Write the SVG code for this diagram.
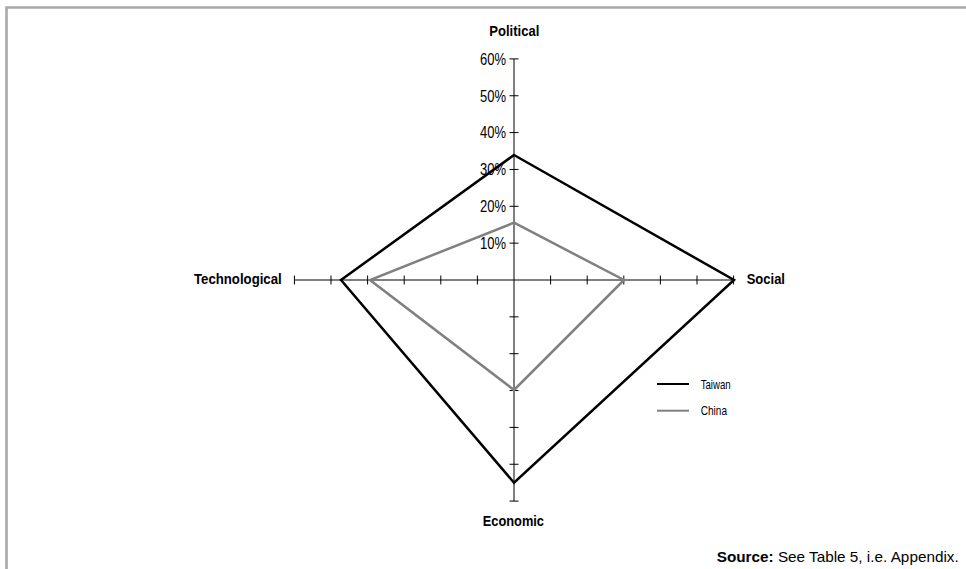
<svg xmlns="http://www.w3.org/2000/svg" width="966" height="569" viewBox="0 0 966 569">
<style>
.ax{stroke:#000;stroke-width:1;fill:none}
.tw{stroke:#000;stroke-width:2.5;fill:none;stroke-linejoin:miter}
.cn{stroke:#808080;stroke-width:2.5;fill:none;stroke-linejoin:miter}
.lbl{font-family:"Liberation Sans",Arial,sans-serif;font-weight:bold;font-size:14px;fill:#000}
.tk{font-family:"Liberation Sans",Arial,sans-serif;font-size:16px;fill:#000;text-anchor:end}
.lg{font-family:"Liberation Sans",Arial,sans-serif;font-size:13.5px;fill:#000}
.src{font-family:"Liberation Sans",Arial,sans-serif;font-size:14.5px;fill:#000}
</style>
<rect width="966" height="569" fill="#fff"/>
<path d="M6.5 569 V7.5 H966" stroke="#a8a8a8" stroke-width="2.6" fill="none"/>
<g id="axes">
<path class="ax" d="M514 58.9 V501.1 M294.4 280 H733.6"/>
<path class="ax" d="M509.5 58.9 h9 M509.5 95.75 h9 M509.5 132.6 h9 M509.5 169.45 h9 M509.5 206.3 h9 M509.5 243.15 h9 M509.5 316.85 h9 M509.5 353.7 h9 M509.5 390.55 h9 M509.5 427.4 h9 M509.5 464.25 h9 M509.5 501.1 h9"/>
<path class="ax" d="M294.4 275.5 v9 M331 275.5 v9 M367.6 275.5 v9 M404.2 275.5 v9 M440.8 275.5 v9 M477.4 275.5 v9 M550.6 275.5 v9 M587.2 275.5 v9 M623.8 275.5 v9 M660.4 275.5 v9 M697 275.5 v9 M733.6 275.5 v9"/>
</g>
<g id="ticklabels">
<text class="tk" x="506" y="64.6" textLength="26" lengthAdjust="spacingAndGlyphs">60%</text>
<text class="tk" x="506" y="101.5" textLength="26" lengthAdjust="spacingAndGlyphs">50%</text>
<text class="tk" x="506" y="138.3" textLength="26" lengthAdjust="spacingAndGlyphs">40%</text>
<text class="tk" x="506" y="175.2" textLength="26" lengthAdjust="spacingAndGlyphs">30%</text>
<text class="tk" x="506" y="212" textLength="26" lengthAdjust="spacingAndGlyphs">20%</text>
<text class="tk" x="506" y="248.9" textLength="26" lengthAdjust="spacingAndGlyphs">10%</text>
</g>
<g id="series">
<polygon id="taiwan" class="tw" points="514,155 734,280 514,482.7 341,280"/>
<polygon id="china" class="cn" points="514,222.7 624,280 514,390 370,280"/>
</g>
<g id="political"><text class="lbl" x="489.3" y="36" textLength="50" lengthAdjust="spacingAndGlyphs">Political</text></g>
<g id="social"><text class="lbl" x="746.7" y="284" textLength="38.3" lengthAdjust="spacingAndGlyphs">Social</text></g>
<g id="economic"><text class="lbl" x="482.7" y="526" textLength="61.3" lengthAdjust="spacingAndGlyphs">Economic</text></g>
<g id="technological"><text class="lbl" x="194" y="284" textLength="87.7" lengthAdjust="spacingAndGlyphs">Technological</text></g>
<g id="legend">
<line x1="657" y1="384" x2="689" y2="384" stroke="#000" stroke-width="2"/>
<text class="lg" x="700.7" y="388.5" textLength="30" lengthAdjust="spacingAndGlyphs">Taiwan</text>
<line x1="657" y1="410.7" x2="689" y2="410.7" stroke="#808080" stroke-width="2"/>
<text class="lg" x="700.7" y="415" textLength="26.3" lengthAdjust="spacingAndGlyphs">China</text>
</g>
<g id="source"><text class="src" x="716.7" y="561.5" textLength="242" lengthAdjust="spacingAndGlyphs"><tspan font-weight="bold">Source:</tspan> See Table 5, i.e. Appendix.</text></g>
</svg>
